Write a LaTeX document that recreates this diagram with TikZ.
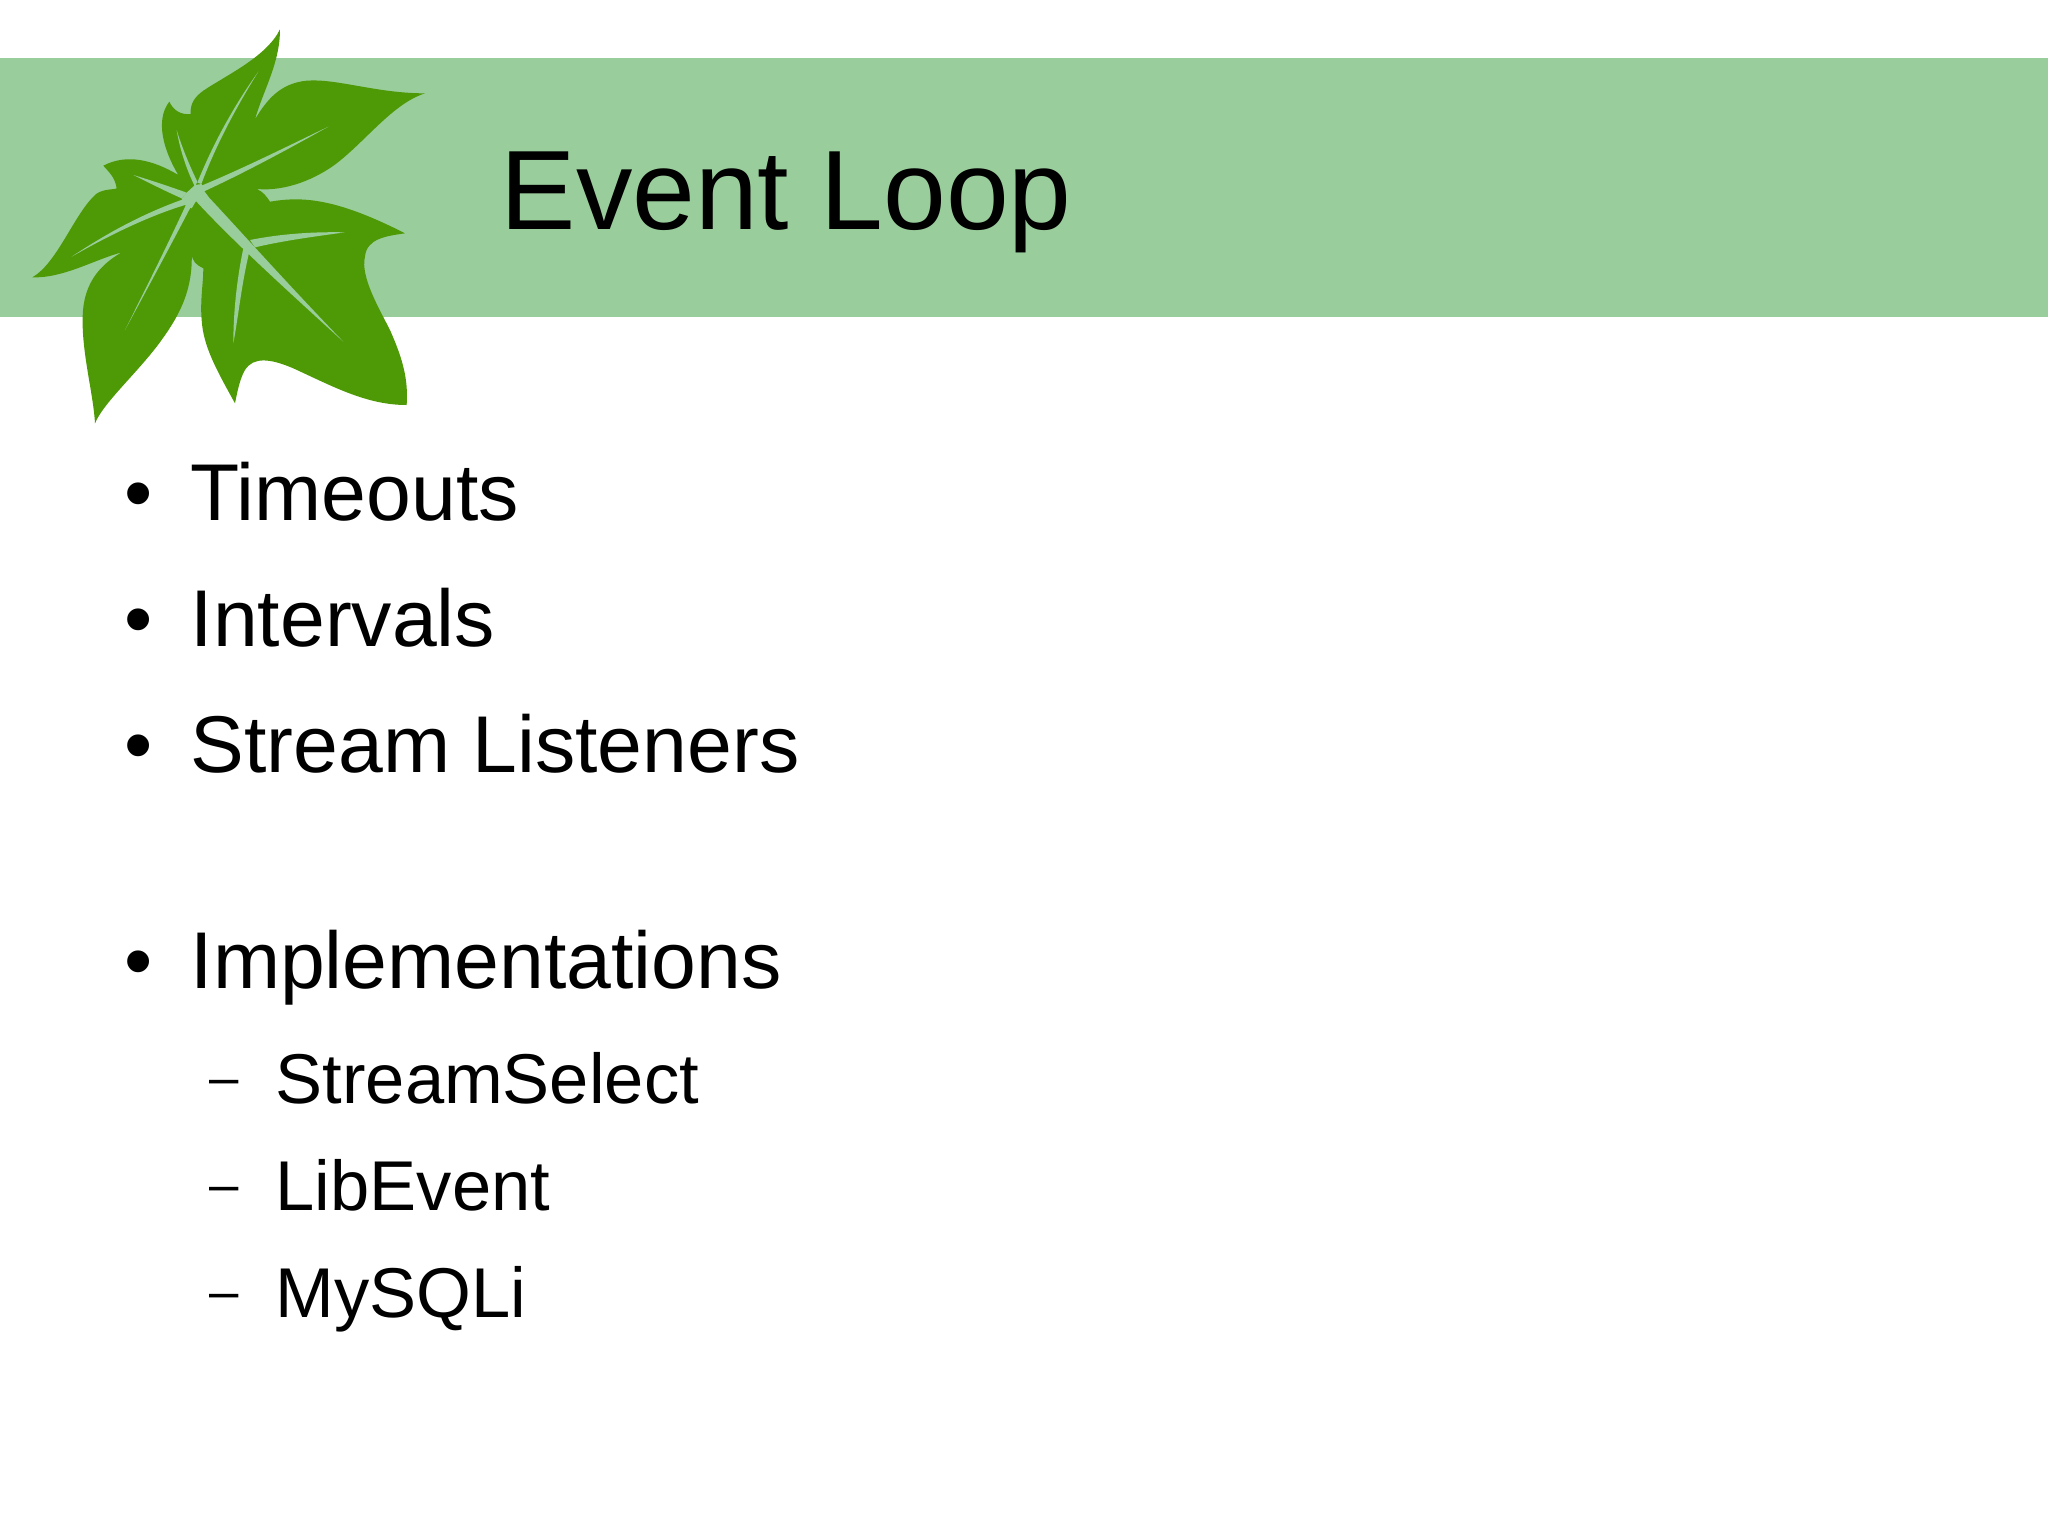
\documentclass[tikz,border=0pt]{standalone}
\usepackage{fontspec}
\setmainfont{Liberation Sans}
\definecolor{bandgreen}{HTML}{9ACD9C}
\definecolor{leafgreen}{HTML}{4E9A06}
\tikzset{
    titletext/.style={anchor=base west,inner sep=0pt,font=\fontsize{32.1}{40}\selectfont},
    itemtext/.style={anchor=base west,inner sep=0pt,font=\fontsize{22.9}{28}\selectfont},
    subtext/.style={anchor=base west,inner sep=0pt,font=\fontsize{20.05}{24}\selectfont},
    dashtext/.style={anchor=base west,inner sep=0pt,font=\fontsize{15}{18}\selectfont},
    vein/.style={fill=bandgreen}
}
\begin{document}
\begin{tikzpicture}[x=0.01cm,y=-0.01cm]
    \useasboundingbox (0,0) rectangle (2048,1535);
    \fill[white] (0,0) rectangle (2048,1535);
    \fill[bandgreen] (0,58) rectangle (2048,317);
    \begin{scope}[scale=1/3]
        \fill[leafgreen] (840,88) .. controls (840,190) and (790,270) .. (765,358)
            .. controls (800,300) and (840,250) .. (920,242)
            .. controls (1010,235) and (1130,280) .. (1275,280)
            .. controls (1180,310) and (1100,420) .. (1010,490)
            .. controls (950,535) and (860,575) .. (770,567)
            .. controls (790,575) and (800,590) .. (810,605)
            .. controls (900,590) and (1000,590) .. (1215,700)
            .. controls (1160,708) and (1100,715) .. (1095,770)
            .. controls (1080,830) and (1140,930) .. (1170,990)
            .. controls (1210,1080) and (1225,1140) .. (1220,1215)
            .. controls (1100,1215) and (1000,1160) .. (880,1105)
            .. controls (810,1075) and (760,1070) .. (735,1110)
            .. controls (720,1135) and (712,1175) .. (705,1210)
            .. controls (650,1110) and (610,1040) .. (605,960)
            .. controls (600,900) and (610,850) .. (610,805)
            .. controls (590,795) and (575,785) .. (575,757)
            .. controls (580,880) and (530,960) .. (470,1040)
            .. controls (400,1130) and (310,1210) .. (285,1270)
            .. controls (280,1180) and (245,1060) .. (248,950)
            .. controls (250,860) and (290,800) .. (365,757)
            .. controls (280,780) and (190,835) .. (97,832)
            .. controls (170,790) and (220,650) .. (280,590)
            .. controls (300,565) and (340,570) .. (350,565)
            .. controls (345,530) and (325,515) .. (310,497)
            .. controls (380,460) and (460,480) .. (535,525)
            .. controls (490,450) and (465,360) .. (508,305)
            .. controls (520,330) and (540,345) .. (572,342)
            .. controls (570,310) and (585,290) .. (610,272)
            .. controls (680,225) and (800,170) .. (840,88) -- cycle;
        \fill[vein] (775,215) .. controls (700,320) and (640,430) .. (592,548)
            -- (604,552) .. controls (650,430) and (710,320) .. (775,215) -- cycle;
        \fill[vein] (985,380) .. controls (860,440) and (730,505) .. (602,558)
            -- (610,575) .. controls (730,520) and (860,450) .. (985,380) -- cycle;
        \fill[vein] (530,390) .. controls (540,450) and (560,510) .. (585,560)
            -- (592,545) .. controls (570,500) and (545,440) .. (530,390) -- cycle;
        \fill[vein] (400,525) .. controls (450,550) and (500,575) .. (545,595)
            -- (560,578) .. controls (510,560) and (450,540) .. (400,525) -- cycle;
        \fill[vein] (215,770) .. controls (320,710) and (440,650) .. (555,615)
            -- (552,597) .. controls (430,640) and (320,700) .. (215,770) -- cycle;
        \fill[vein] (375,990) .. controls (440,870) and (510,740) .. (570,625)
            -- (582,605) -- (560,610) .. controls (500,740) and (440,860) .. (375,990) -- cycle;
        \fill[vein] (585,600) -- (600,578) -- (620,585)
            .. controls (700,670) and (870,860) .. (1030,1025)
            .. controls (860,870) and (700,725) .. (585,600) -- cycle;
        \fill[vein] (750,720) .. controls (850,700) and (950,695) .. (1035,697)
            .. controls (940,710) and (850,722) .. (765,742) -- cycle;
        \fill[vein] (730,745) -- (748,755) .. controls (725,850) and (715,950) .. (700,1030)
            .. controls (700,940) and (710,840) .. (730,745) -- cycle;
        \fill[vein] (585,555) -- (605,552) -- (612,572) -- (625,590) -- (590,600) -- (575,625)
            -- (555,615) -- (545,595) -- (560,578) -- cycle;
    \end{scope}
    \node[titletext] (title) at (500,229) {Event Loop};
    \node[itemtext] (dotA) at (124,520) {•};
    \node[itemtext] (timeouts) at (190,520) {Timeouts};
    \node[itemtext] (dotB) at (124,646) {•};
    \node[itemtext] (intervals) at (190,646) {Intervals};
    \node[itemtext] (dotC) at (124,772) {•};
    \node[itemtext] (listeners) at (190,772) {Stream Listeners};
    \node[itemtext] (dotD) at (124,988) {•};
    \node[itemtext] (impl) at (190,988) {Implementations};
    \node[dashtext] (dashA) at (209,1095) {–};
    \node[subtext] (select) at (275,1103) {StreamSelect};
    \node[dashtext] (dashB) at (209,1202) {–};
    \node[subtext] (libevent) at (275,1210) {LibEvent};
    \node[dashtext] (dashC) at (209,1309) {–};
    \node[subtext] (mysqli) at (275,1317) {MySQLi};
\end{tikzpicture}
\end{document}
